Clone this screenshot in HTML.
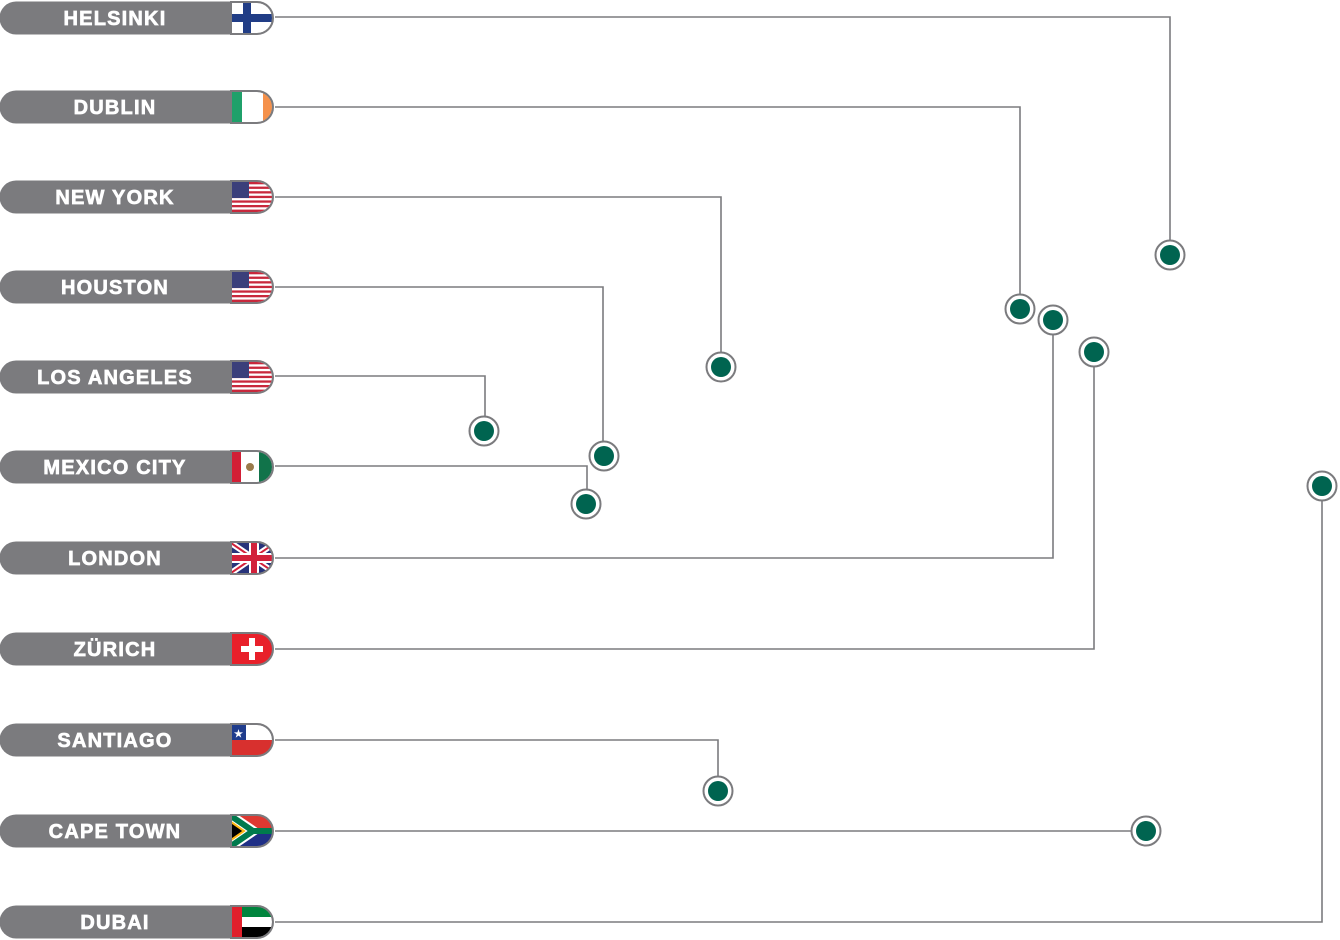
<!DOCTYPE html>
<html><head><meta charset="utf-8"><style>
html,body{margin:0;padding:0;background:#fff;width:1340px;height:940px;overflow:hidden}
text{font-family:"Liberation Sans",sans-serif;font-weight:bold;font-size:20px;fill:#fff;stroke:#fff;stroke-width:0.7;letter-spacing:1.2px}
</style></head><body>
<svg width="1340" height="940" viewBox="0 0 1340 940" xmlns="http://www.w3.org/2000/svg">
<defs>
<clipPath id="fc"><path d="M231,-15 H257 A15,15 0 0 1 257,15 H231 Z"/></clipPath>
<g id="pill">
<path d="M16,-16.5 H257 A16.5,16.5 0 0 1 257,16.5 H16 A16.5,16.5 0 0 1 16,-16.5 Z" fill="#7b7b7e"/>
</g>
<g id="outline"><path d="M257,-16 A16,16 0 0 1 257,16 H231 V-16 Z" fill="none" stroke="#7b7b7e" stroke-width="2"/></g>
<g id="us">
<rect x="231" y="-15" width="44" height="30" fill="#fff"/>
<g fill="#c8283c">
<rect x="231" y="-15" width="44" height="2.3"/><rect x="231" y="-10.4" width="44" height="2.3"/><rect x="231" y="-5.8" width="44" height="2.3"/><rect x="231" y="-1.2" width="44" height="2.3"/><rect x="231" y="3.4" width="44" height="2.3"/><rect x="231" y="8" width="44" height="2.3"/><rect x="231" y="12.6" width="44" height="2.4"/>
</g>
<rect x="231" y="-15" width="18" height="16" fill="#3b3f7a"/>
</g>
</defs>
<g fill="none" stroke="#7b7b7e" stroke-width="1.6">
<polyline points="275,17 1170,17 1170,240"/>
<polyline points="275,107 1020,107 1020,294"/>
<polyline points="275,197 721,197 721,352"/>
<polyline points="275,287 603,287 603,441"/>
<polyline points="275,376 485,376 485,416"/>
<polyline points="275,466 587,466 587,489"/>
<polyline points="275,558 1053,558 1053,335"/>
<polyline points="275,649 1094,649 1094,367"/>
<polyline points="275,740 718,740 718,776"/>
<polyline points="275,831 1131,831"/>
<polyline points="275,922 1322,922 1322,501"/>
</g>
<g>
<g transform="translate(1170,255)"><circle r="14.5" fill="#fff" stroke="#7b7b7e" stroke-width="2"/><circle r="10" fill="#006450"/></g>
<g transform="translate(1020,309)"><circle r="14.5" fill="#fff" stroke="#7b7b7e" stroke-width="2"/><circle r="10" fill="#006450"/></g>
<g transform="translate(721,367)"><circle r="14.5" fill="#fff" stroke="#7b7b7e" stroke-width="2"/><circle r="10" fill="#006450"/></g>
<g transform="translate(604,456)"><circle r="14.5" fill="#fff" stroke="#7b7b7e" stroke-width="2"/><circle r="10" fill="#006450"/></g>
<g transform="translate(484,431)"><circle r="14.5" fill="#fff" stroke="#7b7b7e" stroke-width="2"/><circle r="10" fill="#006450"/></g>
<g transform="translate(586,504)"><circle r="14.5" fill="#fff" stroke="#7b7b7e" stroke-width="2"/><circle r="10" fill="#006450"/></g>
<g transform="translate(1053,320)"><circle r="14.5" fill="#fff" stroke="#7b7b7e" stroke-width="2"/><circle r="10" fill="#006450"/></g>
<g transform="translate(1094,352)"><circle r="14.5" fill="#fff" stroke="#7b7b7e" stroke-width="2"/><circle r="10" fill="#006450"/></g>
<g transform="translate(718,791)"><circle r="14.5" fill="#fff" stroke="#7b7b7e" stroke-width="2"/><circle r="10" fill="#006450"/></g>
<g transform="translate(1146,831)"><circle r="14.5" fill="#fff" stroke="#7b7b7e" stroke-width="2"/><circle r="10" fill="#006450"/></g>
<g transform="translate(1322,486)"><circle r="14.5" fill="#fff" stroke="#7b7b7e" stroke-width="2"/><circle r="10" fill="#006450"/></g>
</g>

<g transform="translate(0,18)"><use href="#pill"/>
<g clip-path="url(#fc)"><rect x="231" y="-15" width="44" height="30" fill="#fff"/><rect x="231" y="-4" width="44" height="8" fill="#213d86"/><rect x="243" y="-15" width="8" height="30" fill="#213d86"/></g>
<use href="#outline"/><text x="115" y="7" text-anchor="middle">HELSINKI</text></g>
<g transform="translate(0,107)"><use href="#pill"/>
<g clip-path="url(#fc)"><rect x="231" y="-15" width="44" height="30" fill="#fff"/><rect x="231" y="-15" width="11" height="30" fill="#1fa06a"/><rect x="263" y="-15" width="12" height="30" fill="#f5914b"/></g>
<use href="#outline"/><text x="115" y="7" text-anchor="middle">DUBLIN</text></g>
<g transform="translate(0,197)"><use href="#pill"/><g clip-path="url(#fc)"><use href="#us"/></g><use href="#outline"/><text x="115" y="7" text-anchor="middle">NEW YORK</text></g>
<g transform="translate(0,287)"><use href="#pill"/><g clip-path="url(#fc)"><use href="#us"/></g><use href="#outline"/><text x="115" y="7" text-anchor="middle">HOUSTON</text></g>
<g transform="translate(0,377)"><use href="#pill"/><g clip-path="url(#fc)"><use href="#us"/></g><use href="#outline"/><text x="115" y="7" text-anchor="middle">LOS ANGELES</text></g>
<g transform="translate(0,467)"><use href="#pill"/>
<g clip-path="url(#fc)"><rect x="231" y="-15" width="44" height="30" fill="#fff"/><rect x="231" y="-15" width="10" height="30" fill="#d21f36"/><rect x="259" y="-15" width="16" height="30" fill="#11734a"/><circle cx="250" cy="0" r="4" fill="#9a7a4a"/></g>
<use href="#outline"/><text x="115" y="7" text-anchor="middle">MEXICO CITY</text></g>
<g transform="translate(0,558)"><use href="#pill"/>
<g clip-path="url(#fc)"><rect x="231" y="-15" width="44" height="30" fill="#27337a"/>
<path d="M231,-15 L275,15 M275,-15 L231,15" stroke="#fff" stroke-width="6"/>
<path d="M231,-15 L275,15 M275,-15 L231,15" stroke="#d2213a" stroke-width="2"/>
<rect x="231" y="-5" width="44" height="10" fill="#fff"/><rect x="249" y="-15" width="10" height="30" fill="#fff"/>
<rect x="231" y="-3" width="44" height="6" fill="#d2213a"/><rect x="251" y="-15" width="6" height="30" fill="#d2213a"/></g>
<use href="#outline"/><text x="115" y="7" text-anchor="middle">LONDON</text></g>
<g transform="translate(0,649)"><use href="#pill"/>
<g clip-path="url(#fc)"><rect x="231" y="-15" width="44" height="30" fill="#e8202a"/><rect x="241" y="-3" width="22" height="6" fill="#fff"/><rect x="249" y="-11" width="6" height="22" fill="#fff"/></g>
<use href="#outline"/><text x="115" y="7" text-anchor="middle">ZÜRICH</text></g>
<g transform="translate(0,740)"><use href="#pill"/>
<g clip-path="url(#fc)"><rect x="231" y="-15" width="44" height="15" fill="#fff"/><rect x="231" y="0" width="44" height="15" fill="#d8302e"/><rect x="231" y="-15" width="15" height="15" fill="#1f3c8c"/><text x="238.5" y="-3" text-anchor="middle" style="font-size:10px;letter-spacing:0;stroke:none">★</text></g>
<use href="#outline"/><text x="115" y="7" text-anchor="middle">SANTIAGO</text></g>
<g transform="translate(0,831)"><use href="#pill"/>
<g clip-path="url(#fc)"><rect x="231" y="-15" width="44" height="15" fill="#de3831"/><rect x="231" y="0" width="44" height="15" fill="#1f2f86"/>
<path d="M231,-15 L253,0 L231,15" fill="none" stroke="#fff" stroke-width="10"/>
<path d="M231,-15 L253,0 L231,15 M253,0 H275" fill="none" stroke="#007a4d" stroke-width="6"/>
<path d="M231,-9 L244,0 L231,9 Z" fill="#000" stroke="#ffb612" stroke-width="2"/></g>
<use href="#outline"/><text x="115" y="7" text-anchor="middle">CAPE TOWN</text></g>
<g transform="translate(0,922)"><use href="#pill"/>
<g clip-path="url(#fc)"><rect x="231" y="-15" width="44" height="10" fill="#00843d"/><rect x="231" y="-5" width="44" height="10" fill="#fff"/><rect x="231" y="5" width="44" height="10" fill="#000"/><rect x="231" y="-15" width="11" height="30" fill="#e0202c"/></g>
<use href="#outline"/><text x="115" y="7" text-anchor="middle">DUBAI</text></g>
</svg>
</body></html>
